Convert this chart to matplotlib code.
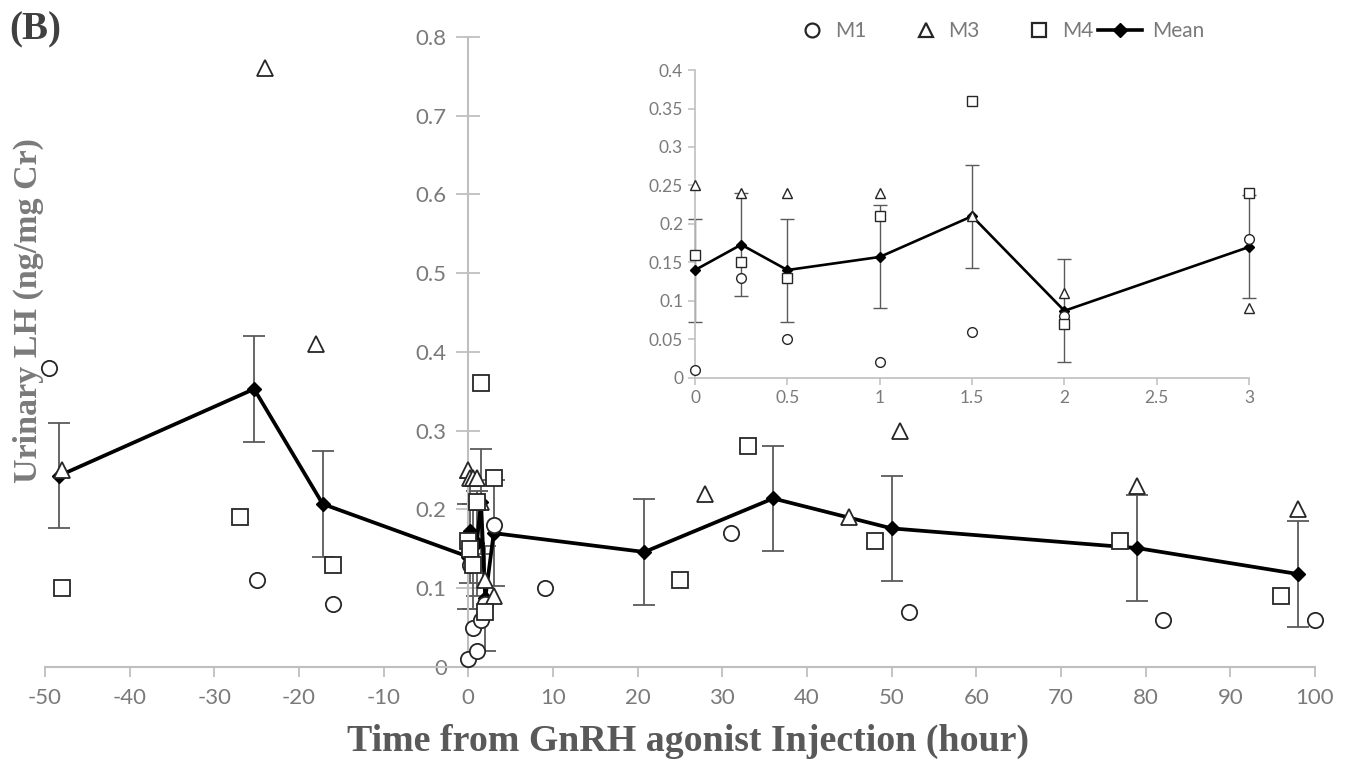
import matplotlib
matplotlib.use("Agg")
import matplotlib.pyplot as plt
from matplotlib.lines import Line2D

# ---------------- data ----------------
m1_t = [-49.5, -25, -16, 0, 0.25, 0.5, 1, 1.5, 2, 3, 9, 31, 52, 82, 100]
m1_v = [0.38, 0.11, 0.08, 0.01, 0.13, 0.05, 0.02, 0.06, 0.08, 0.18, 0.10, 0.17, 0.07, 0.06, 0.06]

m3_t = [-48, -24, -18, 0, 0.25, 0.5, 1, 1.5, 2, 3, 28, 45, 51, 79, 98]
m3_v = [0.25, 0.76, 0.41, 0.25, 0.24, 0.24, 0.24, 0.21, 0.11, 0.09, 0.22, 0.19, 0.30, 0.23, 0.20]

m4_t = [-48, -27, -16, 0, 0.25, 0.5, 1, 1.5, 2, 3, 25, 33, 48, 77, 96]
m4_v = [0.10, 0.19, 0.13, 0.16, 0.15, 0.13, 0.21, 0.36, 0.07, 0.24, 0.11, 0.28, 0.16, 0.16, 0.09]

mean_t = [-48.3, -25.3, -17.2, 0, 0.25, 0.5, 1, 1.5, 2, 3, 20.8, 36, 50, 79, 98]
mean_v = [0.243, 0.353, 0.207, 0.14, 0.173, 0.14, 0.157, 0.21, 0.087, 0.17, 0.146, 0.214, 0.176, 0.151, 0.118]
mean_err = [0.067, 0.067, 0.067, 0.067, 0.067, 0.067, 0.067, 0.067, 0.067, 0.067, 0.067, 0.067, 0.067, 0.067, 0.067]

x_ticks = [-50, -40, -30, -20, -10, 0, 10, 20, 30, 40, 50, 60, 70, 80, 90, 100]
y_ticks = [0, 0.1, 0.2, 0.3, 0.4, 0.5, 0.6, 0.7, 0.8]
y_ticklabels = ["0", "0.1", "0.2", "0.3", "0.4", "0.5", "0.6", "0.7", "0.8"]
ins_x_ticks = [0, 0.5, 1, 1.5, 2, 2.5, 3]
ins_x_labels = ["0", "0.5", "1", "1.5", "2", "2.5", "3"]
ins_y_ticks = [0, 0.05, 0.1, 0.15, 0.2, 0.25, 0.3, 0.35, 0.4]
ins_y_labels = ["0", "0.05", "0.1", "0.15", "0.2", "0.25", "0.3", "0.35", "0.4"]

# ---------------- style ----------------
TICK_FONT = "Lato"
LABEL_FONT = "Liberation Serif"
SPINE = "#bfbfbf"
TICKC = "#7a7a7a"
MK = "#262626"
ERRC = "#5a5a5a"


def window(t, v, lo, hi):
    idx = [i for i, x in enumerate(t) if lo <= x <= hi]
    return [t[i] for i in idx], [v[i] for i in idx]


def draw(a, lo, hi, ms, lw_line, ms_d, cap, mew, elw):
    mt, mv = window(mean_t, mean_v, lo, hi)
    _, me = window(mean_t, mean_err, lo, hi)
    eb = a.errorbar(mt, mv, yerr=me, fmt="none", ecolor=ERRC,
                    elinewidth=elw, capsize=cap, capthick=elw, zorder=2)
    for c in eb.lines[1] + eb.lines[2]:
        c.set_clip_on(False)
    a.plot(mt, mv, color="black", lw=lw_line, marker="D", ms=ms_d,
           zorder=3, clip_on=False)
    for (t, v, m) in ((m1_t, m1_v, "o"), (m3_t, m3_v, "^"), (m4_t, m4_v, "s")):
        wt, wv = window(t, v, lo, hi)
        a.plot(wt, wv, ls="none", marker=m, ms=ms, mfc="white", mec=MK,
               mew=mew, zorder=4, clip_on=False)


fig = plt.figure(figsize=(13.47, 7.64), dpi=100)
ax = fig.add_axes([0.0334, 0.1270, 0.9428, 0.8246])

draw(ax, -50, 100, 11, 2.7, 7, 8, 1.3, 1.3)
ax.set_xlim(-50, 100)
ax.set_ylim(0, 0.8)
ax.spines["left"].set_position(("data", 0))
ax.spines["top"].set_visible(False)
ax.spines["right"].set_visible(False)
for s in ("left", "bottom"):
    ax.spines[s].set_color(SPINE)
    ax.spines[s].set_linewidth(1.5)
ax.set_xticks(x_ticks)
ax.set_xticklabels([str(v) for v in x_ticks])
ax.set_yticks(y_ticks)
ax.set_yticklabels(y_ticklabels)
ax.tick_params(axis="x", direction="out", length=7, width=1.3, color=SPINE,
               labelcolor=TICKC, labelsize=16, pad=8)
ax.tick_params(axis="y", direction="inout", length=17, width=1.3, color=SPINE,
               labelcolor=TICKC, labelsize=16, pad=7)
for lab in ax.get_xticklabels() + ax.get_yticklabels():
    lab.set_fontfamily(TICK_FONT)
ax.patch.set_alpha(0)

fig.text(0.2576, 0.029, "Time from GnRH agonist Injection (hour)", fontsize=27.3,
         fontweight="bold", family=LABEL_FONT, color="#595959",
         ha="left", va="center")
fig.text(0.021, 0.594, "Urinary LH (ng/mg Cr)", fontsize=24.5, fontweight="bold",
         family=LABEL_FONT, color="#7a7a7a", rotation=90, ha="center",
         va="center")
fig.text(0.007, 0.961, "(B)", fontsize=28, fontweight="bold",
         family=LABEL_FONT, color="#404040", ha="left", va="center")

# ---------------- inset ----------------
ins = fig.add_axes([0.516, 0.5056, 0.4113, 0.4027])
draw(ins, 0, 3, 7, 1.9, 4.6, 5, 1.0, 1.0)
ins.set_xlim(0, 3)
ins.set_ylim(0, 0.4)
ins.spines["top"].set_visible(False)
ins.spines["right"].set_visible(False)
for s in ("left", "bottom"):
    ins.spines[s].set_color(SPINE)
    ins.spines[s].set_linewidth(1.2)
ins.set_xticks(ins_x_ticks)
ins.set_xticklabels(ins_x_labels)
ins.set_yticks(ins_y_ticks)
ins.set_yticklabels(ins_y_labels)
ins.tick_params(direction="out", length=5, width=1.1, color=SPINE,
                labelcolor=TICKC, labelsize=12.5)
for lab in ins.get_xticklabels() + ins.get_yticklabels():
    lab.set_fontfamily(TICK_FONT)
ins.patch.set_alpha(0)

# ---------------- legend ----------------
h_pts = [
    Line2D([], [], ls="none", marker="o", ms=10, mfc="white", mec=MK, mew=1.6),
    Line2D([], [], ls="none", marker="^", ms=10, mfc="white", mec=MK, mew=1.6),
    Line2D([], [], ls="none", marker="s", ms=10, mfc="white", mec=MK, mew=1.6),
]
leg1 = fig.legend(h_pts, ["M1", "M3", "M4"], loc="center left",
                  bbox_to_anchor=(0.5951, 0.9594), ncol=3, frameon=False,
                  handlelength=1.0, handletextpad=0.6, columnspacing=2.35,
                  borderpad=0, borderaxespad=0,
                  prop={"family": TICK_FONT, "size": 15})
h_mean = [Line2D([], [], color="black", lw=2.6, marker="D", ms=7)]
leg2 = fig.legend(h_mean, ["Mean"], loc="center left",
                  bbox_to_anchor=(0.8151, 0.9594), frameon=False,
                  handlelength=2.1, handletextpad=0.5,
                  borderpad=0, borderaxespad=0,
                  prop={"family": TICK_FONT, "size": 15})
for lg in (leg1, leg2):
    for t in lg.get_texts():
        t.set_color(TICKC)

fig.savefig("out.png", dpi=100)
